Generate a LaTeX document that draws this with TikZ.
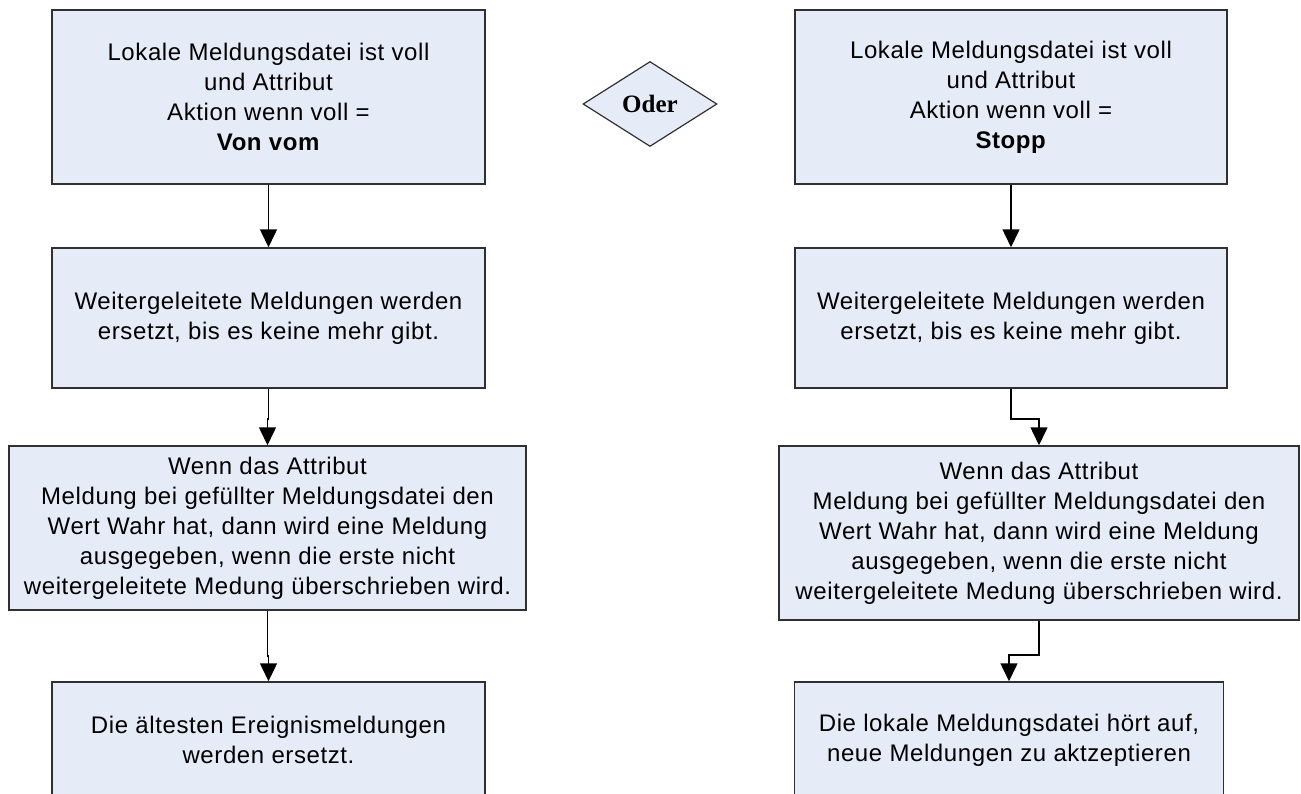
\documentclass[tikz,border=0pt]{standalone}
\usepackage{fontspec}
\setmainfont[LetterSpace=2.5]{Liberation Sans}
\newfontfamily\oderfont{Liberation Serif}
\usepackage{tikz}
\usetikzlibrary{arrows.meta,positioning,shapes.geometric}
\usepackage{xcolor}
\definecolor{boxfill}{HTML}{E6ECF7}
\definecolor{boxline}{HTML}{303030}
\tikzset{
  box/.style={draw=boxline, fill=boxfill, line width=1.5pt, align=center, inner sep=4pt, font=\fontsize{24}{30}\selectfont},
  decision/.style={diamond, draw=boxline, fill=boxfill, line width=1.2pt, inner sep=0pt, minimum width=134pt, minimum height=85pt, font=\oderfont\bfseries\fontsize{25}{30}\selectfont},
  arrow/.style={-{Triangle[length=18pt,width=17pt]}, line width=1.5pt, black}
}

\begin{document}
\begin{tikzpicture}[x=1pt, y=-1pt]
\useasboundingbox (0,0) rectangle (1301,793);
\clip (0,0) rectangle (1301,793);
% linke Spalte
\node[box, minimum width=433pt, minimum height=174pt] (l1) at (268.5,97) {Lokale Meldungsdatei ist voll\\und Attribut\\Aktion wenn voll =\\\textbf{Von vom}};
\node[box, minimum width=433pt, minimum height=140pt] (l2) at (268.5,318) {Weitergeleitete Meldungen werden\\ersetzt, bis es keine mehr gibt.};
\node[box, minimum width=517pt, minimum height=164pt] (l3) at (267.5,528) {Wenn das Attribut\\Meldung bei gefüllter Meldungsdatei den\\Wert Wahr hat, dann wird eine Meldung\\ausgegeben, wenn die erste nicht\\weitergeleitete Medung überschrieben wird.};
\node[box, minimum width=433pt, minimum height=116pt] (l4) at (268.5,740) {Die ältesten Ereignismeldungen\\werden ersetzt.};
% Mitte
\node[decision] (oder) at (650,104) {Oder};
% rechte Spalte
\node[box, minimum width=432pt, minimum height=174pt] (r1) at (1011,97) {Lokale Meldungsdatei ist voll\\und Attribut\\Aktion wenn voll =\\\textbf{Stopp}};
\node[box, minimum width=432pt, minimum height=140pt] (r2) at (1011,318) {Weitergeleitete Meldungen werden\\ersetzt, bis es keine mehr gibt.};
\node[box, minimum width=520pt, minimum height=174pt] (r3) at (1039,533) {Wenn das Attribut\\Meldung bei gefüllter Meldungsdatei den\\Wert Wahr hat, dann wird eine Meldung\\ausgegeben, wenn die erste nicht\\weitergeleitete Medung überschrieben wird.};
\node[box, minimum width=429pt, minimum height=116pt] (r4) at (1009,740) {Die lokale Meldungsdatei hört auf,\\neue Meldungen zu aktzeptieren};
% Pfeile
\draw[arrow] (l1) -- (l2);
\draw[arrow] (l2.south) -- ++(0,30) -| (l3.north);
\draw[arrow] (l3.south) -- ++(0,45) -| (l4.north);
\draw[arrow] (r1) -- (r2);
\draw[arrow] (r2.south) -- ++(0,30) -| (r3.north);
\draw[arrow] (r3.south) -- ++(0,34) -| (r4.north);
\end{tikzpicture}
\end{document}
